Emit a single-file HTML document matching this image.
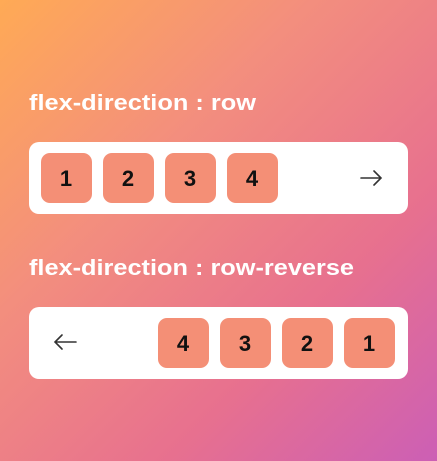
<!DOCTYPE html>
<html><head><style>
html,body{margin:0;padding:0;width:437px;height:461px;overflow:hidden}
body{background:linear-gradient(135deg,#ffaa55 0%,#f38e7e 35%,#e7708f 70%,#cc5fb5 100%)}
svg{display:block}
</style></head><body>
<svg width="437" height="461" xmlns="http://www.w3.org/2000/svg" font-family="Liberation Sans, sans-serif">
<g fill="#fff" font-weight="bold" font-size="22">
<text x="29" y="110" textLength="227" lengthAdjust="spacingAndGlyphs">flex-direction : row</text>
<text x="29" y="275" textLength="325" lengthAdjust="spacingAndGlyphs">flex-direction : row-reverse</text>
</g>
<rect x="29" y="142" width="379" height="72" rx="10" fill="#fff"/>
<rect x="29" y="307" width="379" height="72" rx="10" fill="#fff"/>
<g fill="#f48f76">
<rect x="41" y="153" width="51" height="50" rx="9"/>
<rect x="103" y="153" width="51" height="50" rx="9"/>
<rect x="165" y="153" width="51" height="50" rx="9"/>
<rect x="227" y="153" width="51" height="50" rx="9"/>
<rect x="158" y="318" width="51" height="50" rx="9"/>
<rect x="220" y="318" width="51" height="50" rx="9"/>
<rect x="282" y="318" width="51" height="50" rx="9"/>
<rect x="344" y="318" width="51" height="50" rx="9"/>
</g>
<g fill="#111" font-weight="bold" font-size="22" text-anchor="middle">
<text x="66" y="186">1</text><text x="128" y="186">2</text><text x="190" y="186">3</text><text x="252" y="186">4</text>
<text x="183" y="351">4</text><text x="245" y="351">3</text><text x="307" y="351">2</text><text x="369" y="351">1</text>
</g>
<g stroke="#333" stroke-width="1.6" fill="none" stroke-linecap="round">
<path d="M361 178 H381 M374 171 L381 178 L374 185"/>
<path d="M76 342 H55 M62 335 L55 342 L62 349"/>
</g>
</svg>
</body></html>
